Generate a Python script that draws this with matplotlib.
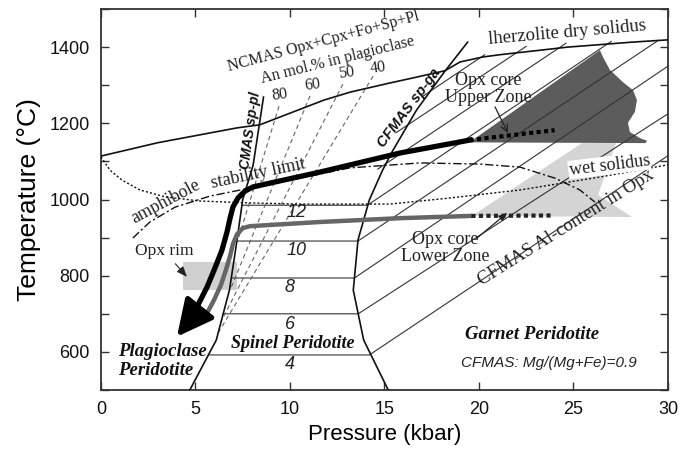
import numpy as np
import matplotlib.pyplot as plt
from matplotlib.patches import Polygon, Rectangle

SERIF = 'Liberation Serif'
SANS = 'Liberation Sans'

# ---- phase boundaries (P in kbar, T in C) ----
dry_P = [0, 3.0, 7.2, 8.4, 11.8, 13.2, 15.3, 16.5, 18.2, 19.0, 20.2, 21.1, 24.7, 28.1, 30]
dry_T = [1114, 1149, 1188, 1196, 1261, 1282, 1306, 1319, 1338, 1361, 1374, 1380, 1400, 1413, 1419]

sppl_P = [4.7, 6.1, 6.8, 7.2, 7.5, 8.05, 8.6]
sppl_T = [500, 631, 763, 894, 1000, 1090, 1269]

spga_P = [15.2, 13.9, 13.35, 13.6, 14.2, 14.9, 15.4, 16.7, 18.2, 19.4]
spga_T = [500, 631, 762, 894, 999, 1077, 1125, 1235, 1337, 1413]

wet_P = [0, 0.48, 1.11, 2.06, 3.39, 5.24, 7.88, 10.53, 15.29, 18.47, 22.17, 26.4, 30]
wet_T = [1112, 1077, 1051, 1025, 1007, 996, 991, 988, 988, 1004, 1025, 1059, 1091]

amph_P = [1.69, 2.59, 3.92, 5.77, 7.88, 10.53, 13.17, 16.88, 20.05, 22.17, 24.02, 25.34, 26.14]
amph_T = [899, 941, 980, 1009, 1030, 1056, 1083, 1096, 1093, 1085, 1056, 1025, 993]

# ---- Al-content isopleths in Opx ----
al_labels = ['4', '6', '8', '10', '12']
al_T = [592, 700, 794, 891, 985]
al_P_pl = [5.68, 6.47, 6.9, 7.19, 7.46]
al_P_ga = [14.2, 13.61, 13.41, 13.6, 14.1]
al_end_P = [30, 30, 30, 29.5, 27.0]
al_end_T = [1115, 1225, 1350, 1418, 1415]
al_lab_P = [10.0, 10.0, 10.0, 10.37, 10.37]
al_lab_T = [566, 673, 770, 867, 965]

# garnet-field only isopleths
gt_start_P = [14.65, 15.6, 17.0]
gt_start_T = [1080, 1175, 1270]
gt_end_P = [24.6, 22.5, 20.3]
gt_end_T = [1410, 1402, 1380]

# ---- An mol.% in plagioclase ----
an_labels = ['80', '60', '50', '40']
an_top_P = [9.42, 11.06, 12.8, 14.4]
an_top_T = [1245, 1272, 1303, 1324]
an_bot_P = [7.25, 6.83, 6.4, 6.14]
an_bot_T = [894, 762, 684, 645]
an_lab_P = [9.47, 11.22, 13.0, 14.66]
an_lab_T = [1274, 1301, 1332, 1345]

# ---- P-T paths ----
upper_P = [19.52, 15.82, 11.59, 8.94, 8.04, 7.62, 7.25, 6.98, 6.83, 6.67, 6.4, 6.03, 5.61, 5.13, 4.71]
upper_T = [1156, 1122, 1072, 1043, 1033, 1022, 1004, 980, 951, 915, 867, 820, 770, 723, 683]
upper_tip = (4.02, 640)
lower_P = [19.63, 15.82, 11.59, 7.88, 7.51, 7.2, 6.98, 6.83, 6.61, 6.35, 5.98, 5.56]
lower_T = [957, 951, 941, 930, 925, 909, 883, 852, 815, 776, 736, 697]
upper_ext_P = [19.5, 24.0]
upper_ext_T = [1156, 1182]
lower_ext_P = [19.6, 23.8]
lower_ext_T = [957, 958]

# ---- Opx fields ----
upper_zone_P = [19.5, 26.4, 26.56, 26.93, 27.62, 28.15, 28.36, 28.25, 27.88, 27.99, 28.52, 28.9, 28.8]
upper_zone_T = [1150, 1392, 1374, 1340, 1308, 1287, 1261, 1230, 1201, 1177, 1161, 1154, 1148]
lower_zone_P = [19.63, 25.45, 27.25, 26.3, 28.1]
lower_zone_T = [957, 1148, 1148, 1012, 954]
rim_P = (4.34, 7.2)
rim_T = (762, 836)

fig = plt.figure(figsize=(6.86, 4.5), dpi=100)
ax = fig.add_axes([0.1472, 0.1333, 0.8265, 0.8467])
ax.set_xlim(0, 30)
ax.set_ylim(500, 1500)

# shaded fields
ax.add_patch(Polygon(np.column_stack([upper_zone_P, upper_zone_T]), closed=True,
                     fc='#5c5c5c', ec='none', zorder=1))
ax.add_patch(Polygon(np.column_stack([lower_zone_P, lower_zone_T]), closed=True,
                     fc='#d4d4d4', ec='none', zorder=1))
ax.add_patch(Rectangle((rim_P[0], rim_T[0]), rim_P[1] - rim_P[0], rim_T[1] - rim_T[0],
                       fc='#d0d0d0', ec='none', zorder=1))

thin = dict(color='#333333', lw=0.8, zorder=2)
for i in range(len(al_T)):
    ax.plot([al_P_pl[i], al_P_ga[i], al_end_P[i]], [al_T[i], al_T[i], al_end_T[i]], **thin)
    ax.text(al_lab_P[i], al_lab_T[i], al_labels[i], family=SANS, style='italic',
            fontsize=13, ha='center', va='center', color='#222222')
for i in range(len(gt_start_P)):
    ax.plot([gt_start_P[i], gt_end_P[i]], [gt_start_T[i], gt_end_T[i]], **thin)

for i in range(len(an_labels)):
    ax.plot([an_top_P[i], an_bot_P[i]], [an_top_T[i], an_bot_T[i]], color='#666666',
            lw=0.8, ls=(0, (4, 3)), zorder=2)
    ax.text(an_lab_P[i], an_lab_T[i], an_labels[i], family=SERIF, fontsize=11.5,
            rotation=8, ha='center', va='center', color='#222222')

ax.plot(dry_P, dry_T, color='#111111', lw=1.2, zorder=3)
ax.plot(sppl_P, sppl_T, color='#111111', lw=1.2, zorder=3)
ax.plot(spga_P, spga_T, color='#111111', lw=1.2, zorder=3)
ax.plot(wet_P, wet_T, color='#111111', lw=1.0, ls=(0, (1.5, 1.5)), zorder=3)
ax.plot(amph_P, amph_T, color='#111111', lw=1.0, ls=(0, (6, 2, 1.5, 2)), zorder=3)

# P-T paths
ax.plot(lower_P, lower_T, color='#666666', lw=3.2, solid_capstyle='butt',
        solid_joinstyle='round', zorder=4)
ax.plot(lower_ext_P, lower_ext_T, color='#222222', lw=3, ls=(0, (1, 0.8)), zorder=4)
ax.plot(upper_P, upper_T, color='black', lw=3.8, solid_joinstyle='round', zorder=5)
ax.plot(upper_ext_P, upper_ext_T, color='black', lw=3, ls=(0, (1, 0.8)), zorder=5)
ax.annotate('', xy=upper_tip, xytext=(upper_P[-1], upper_T[-1]),
            arrowprops=dict(arrowstyle='-|>,head_length=1.1,head_width=0.55',
                            mutation_scale=20, lw=3.8, color='black', shrinkA=0, shrinkB=0),
            zorder=5)

# annotations
ax.annotate('Opx rim', xy=(4.55, 797), xytext=(3.33, 865), family=SERIF, fontsize=12.5,
            ha='center', va='center', color='#222222',
            arrowprops=dict(arrowstyle='-|>,head_length=0.5,head_width=0.2', lw=0.8,
                            color='#222222', shrinkA=2, shrinkB=0))
ax.text(20.5, 1290, 'Opx core\nUpper Zone', family=SERIF, fontsize=13, ha='center',
        va='center', linespacing=1.05, color='#222222', zorder=6)
ax.annotate('', xy=(21.53, 1175), xytext=(20.85, 1243),
            arrowprops=dict(arrowstyle='->,head_length=0.5,head_width=0.25', lw=0.9,
                            color='#222222', shrinkA=0, shrinkB=0), zorder=6)
ax.text(18.2, 873, 'Opx core\nLower Zone', family=SERIF, fontsize=13, ha='center',
        va='center', linespacing=1.05, color='#222222', zorder=6)
ax.annotate('', xy=(21.5, 965), xytext=(19.9, 899),
            arrowprops=dict(arrowstyle='-|>,head_length=0.5,head_width=0.2', lw=0.9,
                            color='#222222', shrinkA=0, shrinkB=0), zorder=6)

# labels
ax.text(11.75, 1413, 'NCMAS Opx+Cpx+Fo+Sp+Pl', family=SERIF, fontsize=11.5, rotation=15,
        rotation_mode='anchor', ha='center', va='center', color='#222222')
ax.text(12.54, 1366, 'An mol.% in plagioclase', family=SERIF, fontsize=11.5, rotation=14,
        rotation_mode='anchor', ha='center', va='center', color='#222222')
ax.text(24.66, 1437, 'lherzolite dry solidus', family=SERIF, fontsize=13.5, rotation=5,
        rotation_mode='anchor', ha='center', va='center', color='#222222')
ax.text(26.9, 1090, 'wet solidus', family=SERIF, fontsize=13, rotation=7,
        rotation_mode='anchor', ha='center', va='center', color='#222222', zorder=6,
        bbox=dict(fc='white', ec='none', pad=0.5))
ax.text(3.45, 993, 'amphibole', family=SERIF, fontsize=13, rotation=28,
        rotation_mode='anchor', ha='center', va='center', color='#222222')
ax.text(8.3, 1067, 'stability limit', family=SERIF, fontsize=13, rotation=12,
        rotation_mode='anchor', ha='center', va='center', color='#222222')
ax.text(24.6, 925, 'CFMAS Al-content in Opx', family=SERIF, fontsize=13.5, rotation=32,
        rotation_mode='anchor', ha='center', va='center', color='#222222')
ax.text(7.9, 1180, 'CMAS sp-pl', family=SANS, weight='bold', style='italic', fontsize=10,
        rotation=82, rotation_mode='anchor', ha='center', va='center', color='#111111')
ax.text(16.3, 1240, 'CFMAS sp-ga', family=SANS, weight='bold', style='italic', fontsize=10.5,
        rotation=53, rotation_mode='anchor', ha='center', va='center', color='#111111')
ax.text(0.9, 576, 'Plagioclase\nPeridotite', family=SERIF, weight='bold', style='italic',
        fontsize=13.5, ha='left', va='center', linespacing=1.15, color='#111111')
ax.text(10.16, 621, 'Spinel Peridotite', family=SERIF, weight='bold', style='italic',
        fontsize=13, ha='center', va='center', color='#111111')
ax.text(22.8, 647, 'Garnet Peridotite', family=SERIF, weight='bold', style='italic',
        fontsize=13.5, ha='center', va='center', color='#111111')
ax.text(23.7, 571, 'CFMAS: Mg/(Mg+Fe)=0.9', family=SANS, style='italic', fontsize=11,
        ha='center', va='center', color='#222222')

# axes styling
ax.set_xticks(np.arange(0, 31, 5))
ax.set_yticks(np.arange(600, 1401, 200))
ax.set_yticks(np.arange(500, 1501, 100), minor=True)
ax.tick_params(which='both', direction='in', length=6, width=1, top=True, right=True,
               colors='#333333', labelcolor='#111111', labelsize=13, pad=8)
for lab in ax.get_xticklabels() + ax.get_yticklabels():
    lab.set_family(SANS)
for s in ax.spines.values():
    s.set_linewidth(1.3)
    s.set_color('#333333')
ax.set_xlabel('Pressure (kbar)', family=SANS, fontsize=16, labelpad=4)
ax.set_ylabel('Temperature (°C)', family=SANS, fontsize=19, labelpad=6)

fig.savefig('out.png', dpi=100)
